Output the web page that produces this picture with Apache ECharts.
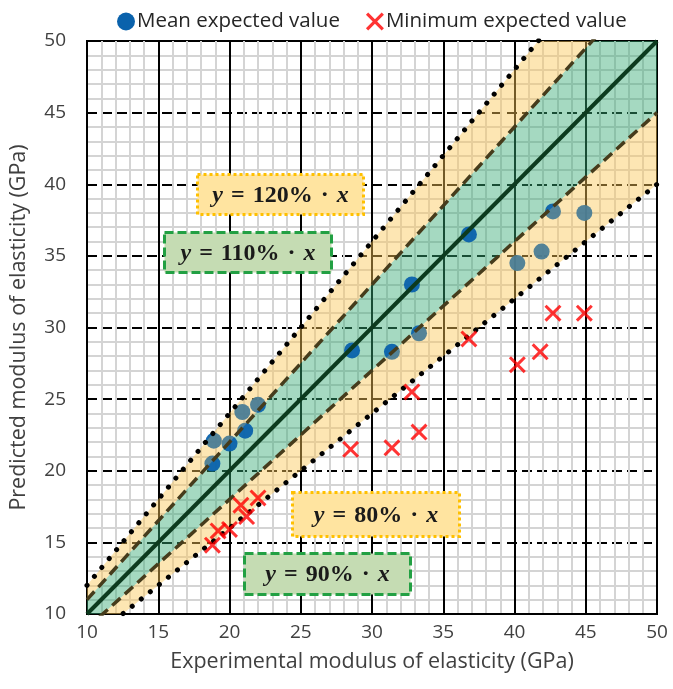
<!DOCTYPE html>
<html>
<head>
<meta charset="utf-8">
<script src="https://cdn.jsdelivr.net/npm/echarts@6/dist/echarts.min.js"></script>
<style>
  html, body { margin: 0; padding: 0; background: #fff; }
  #chart { width: 673px; height: 689px; }
</style>
</head>
<body>
<div id="chart"></div>
<script>
// Experimental vs. predicted modulus of elasticity (GPa)
const meanX = [18.8, 18.9, 20.0, 20.9, 21.1, 22.0, 28.6, 31.4, 32.8, 33.3, 36.8, 40.2, 41.9, 42.7, 44.9];
const meanY = [20.5, 22.1, 21.9, 24.1, 22.8, 24.6, 28.4, 28.3, 33.0, 29.6, 36.5, 34.5, 35.3, 38.1, 38.0];

const minX = [18.8, 19.2, 20.0, 20.8, 21.2, 22.0, 28.5, 31.4, 32.8, 33.3, 36.8, 40.2, 41.8, 42.7, 44.9];
const minY = [14.8, 15.8, 15.9, 17.6, 16.8, 18.1, 21.5, 21.6, 25.5, 22.7, 29.2, 27.4, 28.3, 31.0, 31.0];

// Reference lines y = k·x
const slopes = [0.8, 0.9, 1.0, 1.1, 1.2];
const lineLabels = ['80%', '90%', '100%', '110%', '120%'];
const axisMin = 10, axisMax = 50, axisStep = 5;

const font = 'Open Sans';
const textColor = '#404040';

const chart = echarts.init(document.getElementById('chart'));

function pairs(xs, ys) { return xs.map((x, i) => [x, ys[i]]); }

// Band between two slopes, drawn as a polygon clipped to the plot area
function bandSeries(kLo, kHi, color, z) {
  return {
    type: 'custom',
    silent: true,
    z: z,
    data: [[axisMin, axisMax]],
    renderItem: function (params, api) {
      const a = api.value(0), b = api.value(1);
      const pts = [
        api.coord([a, kLo * a]), api.coord([b, kLo * b]),
        api.coord([b, kHi * b]), api.coord([a, kHi * a])
      ];
      const cs = params.coordSys;
      return {
        type: 'polygon',
        shape: { points: pts },
        style: { fill: color },
        clipPath: { type: 'rect', shape: { x: cs.x, y: cs.y, width: cs.width, height: cs.height } }
      };
    }
  };
}

function refLine(k, style, z) {
  return {
    type: 'line',
    silent: true,
    z: z,
    symbol: 'none',
    clip: true,
    data: [[axisMin, k * axisMin], [axisMax, k * axisMax]],
    lineStyle: style
  };
}

// The yellow bands are laid in two translucent layers, one under and one over the mean markers
const orangeUnder = 'rgba(252, 198, 88, 0.25)';
const orangeOver = 'rgba(252, 198, 88, 0.27)';
const greenFill = 'rgba(56, 170, 118, 0.45)';
const crossPath = 'path://M0,1.5L1.5,0L6,4.5L10.5,0L12,1.5L7.5,6L12,10.5L10.5,12L6,7.5L1.5,12L0,10.5L4.5,6Z';

const series = [
  bandSeries(slopes[1], slopes[3], greenFill, 1),
  bandSeries(slopes[0], slopes[1], orangeUnder, 1),
  bandSeries(slopes[3], slopes[4], orangeUnder, 1),
  {
    name: 'Mean expected value',
    type: 'scatter',
    z: 2,
    symbol: 'circle',
    symbolSize: 16,
    itemStyle: { color: '#0a62ac', opacity: 0.95 },
    data: pairs(meanX, meanY)
  },
  bandSeries(slopes[0], slopes[1], orangeOver, 3),
  bandSeries(slopes[3], slopes[4], orangeOver, 3),
  refLine(slopes[0], { color: '#000', width: 5, type: [0.1, 11.5], cap: 'round' }, 4),
  refLine(slopes[4], { color: '#000', width: 5, type: [0.1, 11.5], cap: 'round' }, 4),
  refLine(slopes[1], { color: '#463c1c', width: 3.5, type: [11, 6] }, 4),
  refLine(slopes[3], { color: '#463c1c', width: 3.5, type: [11, 6] }, 4),
  refLine(slopes[2], { color: '#0c3a1e', width: 4 }, 4),
  {
    name: 'Minimum expected value',
    type: 'scatter',
    z: 5,
    symbol: crossPath,
    symbolSize: 17,
    itemStyle: { color: '#ff0000' },
    data: pairs(minX, minY)
  }
];

// Equation label box for one reference line
function box(left, top, w, h, label, fill, stroke, dash) {
  const base = { fontFamily: 'Liberation Serif', fontWeight: 'bold', fontSize: 24, fill: '#1a1a1a' };
  return {
    type: 'group',
    left: left,
    top: top,
    z: 100,
    children: [
      {
        type: 'rect',
        z: 100,
        shape: { x: 0, y: 0, width: w, height: h },
        style: { fill: fill, stroke: stroke, lineWidth: 3, lineDash: dash }
      },
      {
        type: 'text',
        z: 101,
        x: w / 2,
        y: h / 2 + 1,
        style: {
          text: '{v|y}{s| }{n|=}{s| }{n|' + label + '}{s| }{n|·}{s| }{v|x}',
          align: 'center',
          verticalAlign: 'middle',
          fill: '#1a1a1a',
          rich: {
            v: Object.assign({ fontStyle: 'italic' }, base),
            n: base,
            s: Object.assign({ width: 8 }, base)
          }
        }
      }
    ]
  };
}

const option = {
  animation: false,
  backgroundColor: '#fff',
  legend: {
    top: 6,
    left: 112,
    itemGap: 26,
    itemWidth: 18,
    itemHeight: 18,
    textStyle: { fontFamily: font, fontSize: 20.5, color: '#262626', padding: [0, 0, 0, -3] },
    data: [
      { name: 'Mean expected value', icon: 'circle', itemStyle: { color: '#0a62ac', opacity: 1 } },
      { name: 'Minimum expected value', icon: crossPath, itemStyle: { color: '#ff0000' } }
    ]
  },
  grid: {
    left: 87, right: 16, top: 41, bottom: 75,
    show: true,
    borderColor: '#000',
    borderWidth: 2,
    backgroundColor: '#fff'
  },
  xAxis: {
    type: 'value',
    min: axisMin, max: axisMax, interval: axisStep,
    name: 'Experimental modulus of elasticity (GPa)',
    nameLocation: 'middle',
    nameGap: 37,
    nameTextStyle: { fontFamily: font, fontSize: 21.5, color: textColor },
    axisLine: { show: true, lineStyle: { color: '#000', width: 2 } },
    axisTick: { show: false },
    axisLabel: { fontFamily: font, fontSize: 19, color: textColor, margin: 9 },
    splitLine: { show: true, lineStyle: { color: '#000', width: 2 } },
    minorTick: { show: false, splitNumber: 5 },
    minorSplitLine: { show: true, lineStyle: { color: '#d4d4d4', width: 2 } }
  },
  yAxis: {
    type: 'value',
    min: axisMin, max: axisMax, interval: axisStep,
    name: 'Predicted modulus of elasticity (GPa)',
    nameLocation: 'middle',
    nameGap: 57,
    nameTextStyle: { fontFamily: font, fontSize: 21.5, color: textColor },
    axisLine: { show: true, lineStyle: { color: '#000', width: 2 } },
    axisTick: { show: false },
    axisLabel: { fontFamily: font, fontSize: 19, color: textColor, margin: 21 },
    splitLine: { show: true, lineStyle: { color: '#000', width: 2, type: [10, 5] } },
    minorTick: { show: false, splitNumber: 5 },
    minorSplitLine: { show: true, lineStyle: { color: '#d4d4d4', width: 2 } }
  },
  series: series,
  graphic: [
    box(196, 173, 166, 40, lineLabels[4], '#ffe4a0', '#ffc000', [3, 3]),
    box(163, 231, 167, 40, lineLabels[3], '#c5dcb3', '#22a043', [9, 4]),
    box(291, 491, 167, 44, lineLabels[0], '#ffe4a0', '#ffc000', [3, 3]),
    box(243, 552, 166, 41, lineLabels[1], '#c5dcb3', '#22a043', [9, 4])
  ]
};

chart.setOption(option);
</script>
</body>
</html>
